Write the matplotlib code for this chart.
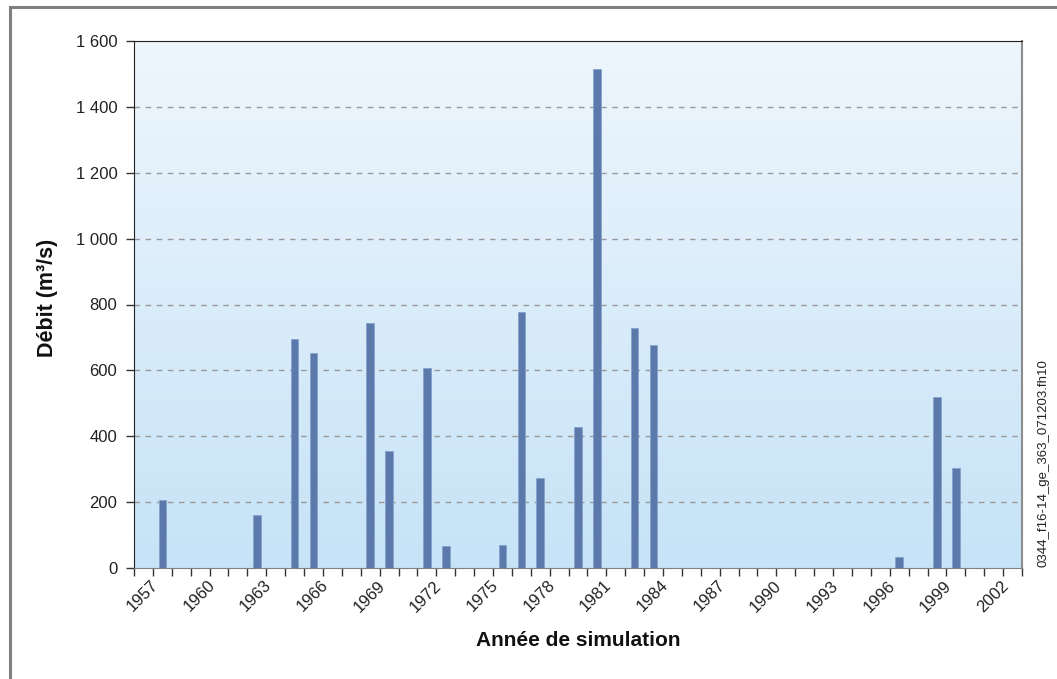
import numpy as np
import matplotlib
matplotlib.use("Agg")
import matplotlib.pyplot as plt
import matplotlib.transforms as mtransforms
from matplotlib.lines import Line2D

plt.rcParams['font.family'] = ['Liberation Sans', 'DejaVu Sans']

# -----------------------------
# Data
# -----------------------------
years = list(range(1957, 2004))
debit = [0, 205, 0, 0, 0, 0, 162, 0, 695, 654,
         0, 0, 743, 355, 0, 608, 68, 0, 0, 70,
         778, 273, 0, 427, 1515, 0, 730, 678, 0, 0,
         0, 0, 0, 0, 0, 0, 0, 0, 0, 0,
         32, 0, 519, 305, 0, 0, 0]
label_years = [1957, 1960, 1963, 1966, 1969, 1972, 1975, 1978, 1981,
               1984, 1987, 1990, 1993, 1996, 1999, 2002]
y_ticks = [0, 200, 400, 600, 800, 1000, 1200, 1400, 1600]

# -----------------------------
# Figure
# -----------------------------
fig = plt.figure(figsize=(10.57, 6.79), dpi=100)
ax = fig.add_axes([134 / 1057, 1 - 568 / 679, 888 / 1057, 527 / 679])

# gradient background
grad = np.linspace(0, 1, 256).reshape(-1, 1)
top = np.array([238, 246, 253]) / 255
bot = np.array([198, 227, 247]) / 255
img = top + (bot - top) * grad[:, :, None]
ax.imshow(img, extent=[0, 1, 0, 1], transform=ax.transAxes, aspect='auto', zorder=0)

x = np.arange(len(years))
ax.bar(x, debit, width=0.4, color='#5b7aab', edgecolor='#86a2cc', linewidth=0.6, zorder=3)

ax.set_xlim(-0.5, len(years) - 0.5)
ax.set_ylim(0, 1600)

# y axis
ax.set_yticks(y_ticks)
ax.set_yticklabels([f"{v:,}".replace(",", " ") for v in y_ticks], fontsize=12, color='#222222')
ax.tick_params(axis='y', length=6, width=1, color='#333333', pad=6)
for v in y_ticks[1:-1]:
    ax.axhline(v, color='#999999', linestyle=(0, (4, 4)), linewidth=1, zorder=1)

# x axis: ticks between categories, labels every 3 years
ax.set_xticks(np.arange(len(years) + 1) - 0.5, minor=True)
ax.tick_params(axis='x', which='minor', length=6, width=1, color='#333333')
ax.set_xticks([years.index(y) for y in label_years])
ax.set_xticklabels([str(y) for y in label_years], rotation=45, ha='right', va='top',
                   rotation_mode='anchor', fontsize=12, color='#222222')
ax.tick_params(axis='x', which='major', length=0, pad=7)
offset = mtransforms.ScaledTranslation(7 / 100, 0, fig.dpi_scale_trans)
for lbl in ax.get_xticklabels():
    lbl.set_transform(lbl.get_transform() + offset)

ax.spines['left'].set_color('#222222')
ax.spines['top'].set_color('#222222')
ax.spines['bottom'].set_color('#808080')
ax.spines['right'].set_color('#8c8c8c')
ax.spines['right'].set_linewidth(1.5)
for s in ax.spines.values():
    s.set_zorder(5)

fig.text(47 / 1057, 1 - 298 / 679, "Débit (m³/s)", rotation=90, ha='center', va='center',
         fontsize=15.5, fontweight='bold', color='#111111')
fig.text(578 / 1057, 1 - 640 / 679, "Année de simulation", ha='center', va='center',
         fontsize=15, fontweight='bold', color='#111111')

fig.text(1043 / 1057, 1 - 567 / 679, "0344_f16-14_ge_363_071203.fh10", rotation=90,
         ha='center', va='bottom', fontsize=9.5, color='#222222')

# outer frame (left and top)
fig.add_artist(Line2D([10 / 1057, 10 / 1057], [0, 1 - 6.5 / 679], color='#808080', linewidth=2.2,
                      transform=fig.transFigure))
fig.add_artist(Line2D([10 / 1057, 1], [1 - 6.5 / 679, 1 - 6.5 / 679], color='#808080', linewidth=2.2,
                      transform=fig.transFigure))

fig.savefig("out.png", dpi=100)
